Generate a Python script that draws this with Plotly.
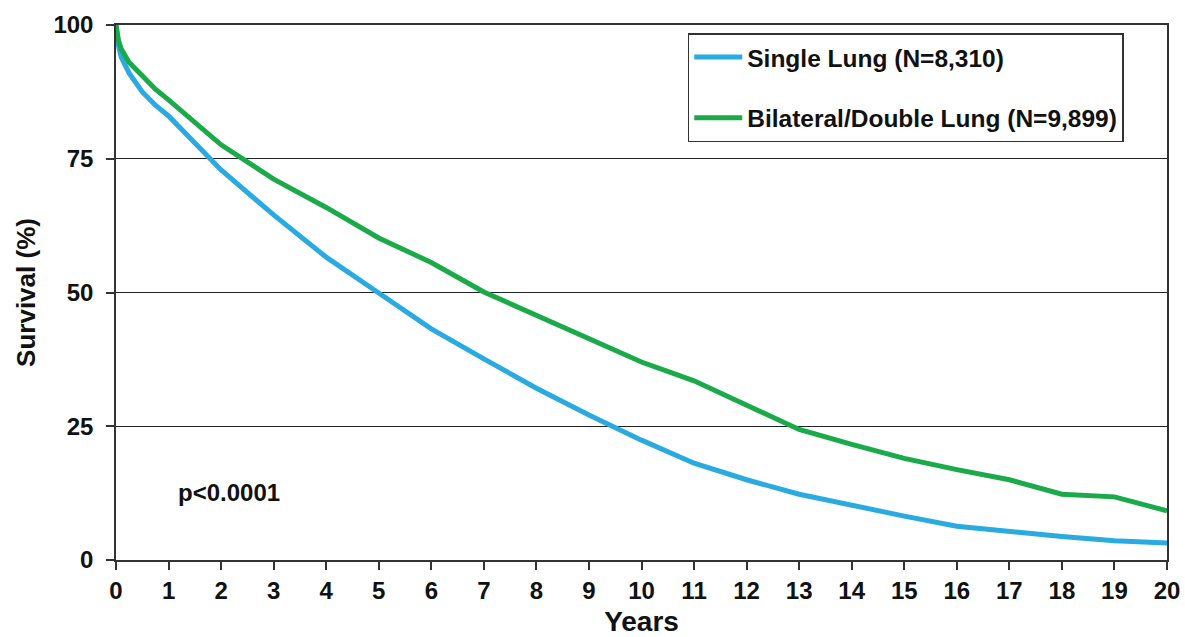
import plotly.graph_objects as go

years = [0, 0.05, 0.1, 0.25, 0.5, 0.75, 1, 2, 3, 4, 5, 6, 7, 8, 9, 10, 11, 12, 13, 14, 15, 16, 17, 18, 19, 20]
single_lung = [100, 96.0, 94.0, 91.0, 87.5, 85.0, 83.0, 72.9, 64.5, 56.6, 49.9, 43.2, 37.6, 32.1, 27.1, 22.4, 18.1, 15.0, 12.3, 10.2, 8.2, 6.3, 5.3, 4.4, 3.6, 3.2]
double_lung = [100, 97.0, 95.5, 93.0, 90.5, 88.0, 86.0, 77.6, 71.2, 65.9, 60.2, 55.6, 50.1, 45.8, 41.5, 37.0, 33.5, 28.9, 24.4, 21.6, 19.0, 16.9, 15.0, 12.3, 11.8, 9.2]

series_names = ["Single Lung (N=8,310)", "Bilateral/Double Lung (N=9,899)"]
x_ticks = list(range(0, 21))
y_ticks = [0, 25, 50, 75, 100]

FONT = "Liberation Sans, Arial, sans-serif"

fig = go.Figure()
fig.add_trace(go.Scatter(x=years, y=single_lung, mode="lines", name=series_names[0],
                         legendgroup="a", line=dict(color="#29ABE2", width=5)))
fig.add_trace(go.Scatter(x=years, y=double_lung, mode="lines", name=series_names[1],
                         legendgroup="b", line=dict(color="#1AAA4A", width=5)))

fig.add_annotation(x=2.15, y=12.7, text="p<0.0001", showarrow=False,
                   font=dict(family=FONT, size=24, color="#111111", weight="bold"))

fig.update_layout(
    width=1185, height=637,
    margin=dict(l=116, r=18, t=25, b=77, autoexpand=False),
    plot_bgcolor="white", paper_bgcolor="white",
    font=dict(family=FONT, color="#111111", weight="bold"),
    legend=dict(x=0.544, y=0.985, xanchor="left", yanchor="top",
                bordercolor="#333333", borderwidth=1.5, bgcolor="white",
                font=dict(family=FONT, size=24.5, color="#111111", weight="bold"),
                tracegroupgap=26, itemwidth=48),
    xaxis=dict(range=[0, 20], tickvals=x_ticks, showgrid=False, zeroline=False,
               showline=True, linecolor="#333333", linewidth=1.5, mirror=True,
               ticks="outside", ticklen=8, tickwidth=1.5, tickcolor="#333333",
               automargin=False,
               tickfont=dict(family=FONT, size=24, weight="bold"),
               title=dict(text="Years", font=dict(family=FONT, size=28, weight="bold"), standoff=14)),
    yaxis=dict(range=[0, 100], tickvals=y_ticks, showgrid=True, gridcolor="#222222", gridwidth=1.2,
               zeroline=False, showline=True, linecolor="#333333", linewidth=1.5, mirror=True,
               ticks="outside", ticklen=8, tickwidth=1.5, tickcolor="#333333",
               ticklabelstandoff=8, automargin=False,
               tickfont=dict(family=FONT, size=24, weight="bold"),
               title=dict(text="Survival (%)", font=dict(family=FONT, size=26, weight="bold"), standoff=10)),
)

fig.write_html("out.html")
